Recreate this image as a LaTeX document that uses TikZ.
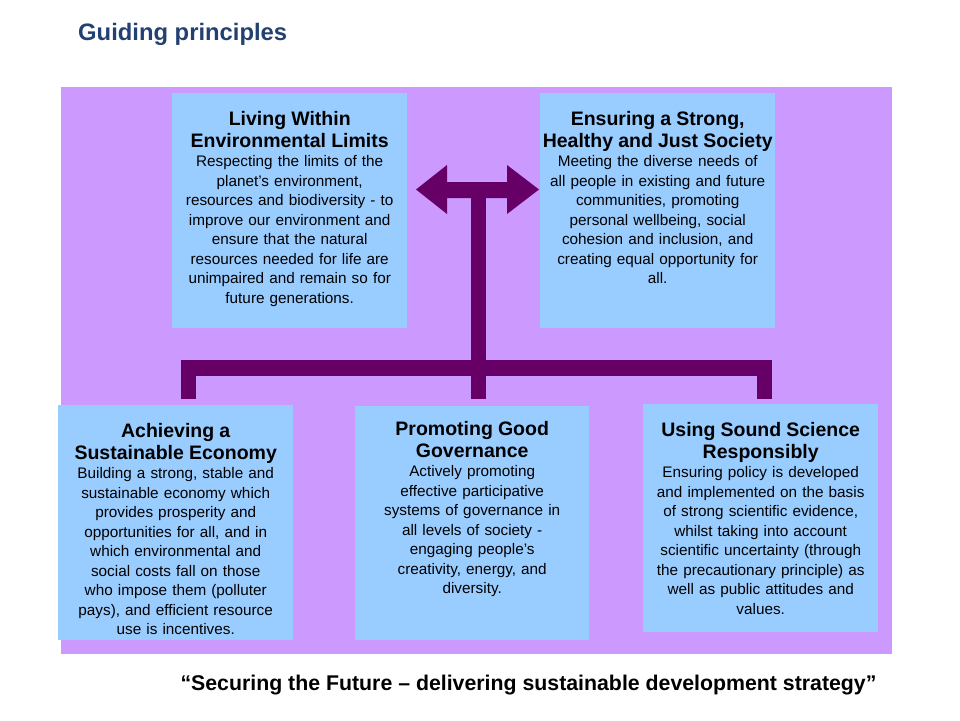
\documentclass[tikz,border=0pt]{standalone}
\usepackage{fontspec}
\setmainfont{Liberation Sans}
\definecolor{bgpurple}{HTML}{CC99FF}
\definecolor{boxblue}{HTML}{99CCFF}
\definecolor{arrowpurple}{HTML}{660066}
\definecolor{titleblue}{RGB}{35,64,115}
\newcommand{\headfont}{\fontsize{19.5}{22}\selectfont\bfseries}
\newcommand{\bodyfont}{\fontsize{15.3}{19.5}\selectfont}
\tikzset{
  bgpanel/.style={fill=bgpurple, draw=none, inner sep=0, anchor=north west},
  principle/.style={fill=boxblue, draw=none, inner sep=0, anchor=north west},
  ptext/.style={anchor=north, inner sep=0, text width=260pt, align=center, font=\bodyfont},
  barline/.style={draw=arrowpurple, line width=15.5pt, line join=miter, line cap=butt},
}
\begin{document}
\begin{tikzpicture}[x=1pt,y=-1pt]
\useasboundingbox (0,0) rectangle (960,720);
\node[anchor=base west, inner sep=0, text=titleblue, font=\fontsize{23.8}{28}\selectfont\bfseries] (title) at (78,40) {Guiding principles};
\node[bgpanel, minimum width=831pt, minimum height=567pt] (bg) at (61,87) {};
\node[principle, minimum width=235pt, minimum height=235pt] (b1) at (172,93) {};
\node[principle, minimum width=235pt, minimum height=235pt] (b2) at (540,93) {};
\node[principle, minimum width=235pt, minimum height=235pt] (b3) at (58,405) {};
\node[principle, minimum width=234pt, minimum height=234pt] (b4) at (355,406) {};
\node[principle, minimum width=235pt, minimum height=228pt] (b5) at (643,404) {};
\node[ptext] (t1) at ([yshift=-18pt]b1.north) {{\headfont Living Within\\Environmental Limits\par}Respecting the limits of the\\planet's environment,\\resources and biodiversity - to\\improve our environment and\\ensure that the natural\\resources needed for life are\\unimpaired and remain so for\\future generations.};
\node[ptext] (t2) at ([yshift=-18pt]b2.north) {{\headfont Ensuring a Strong,\\Healthy and Just Society\par}Meeting the diverse needs of\\all people in existing and future\\communities, promoting\\personal wellbeing, social\\cohesion and inclusion, and\\creating equal opportunity for\\all.};
\node[ptext] (t3) at ([yshift=-18pt]b3.north) {{\headfont Achieving a\\Sustainable Economy\par}Building a strong, stable and\\sustainable economy which\\provides prosperity and\\opportunities for all, and in\\which environmental and\\social costs fall on those\\who impose them (polluter\\pays), and efficient resource\\use is incentives.};
\node[ptext] (t4) at ([yshift=-15pt]b4.north) {{\headfont Promoting Good\\Governance\par}Actively promoting\\effective participative\\systems of governance in\\all levels of society -\\engaging people's\\creativity, energy, and\\diversity.};
\node[ptext] (t5) at ([yshift=-18pt]b5.north) {{\headfont Using Sound Science\\Responsibly\par}Ensuring policy is developed\\and implemented on the basis\\of strong scientific evidence,\\whilst taking into account\\scientific uncertainty (through\\the precautionary principle) as\\well as public attitudes and\\values.};
% connector structure
\coordinate (tipL) at (416,189.5);
\coordinate (tipR) at (539,189.5);
\coordinate (hub) at (478,189.5);
\coordinate (legL) at (188.5,399);
\coordinate (legM) at (478,399);
\coordinate (legR) at (764.5,399);
\fill[arrowpurple] (tipL) -- ++(31,-24.5) -- ++(0,17) -- ++(60,0) -- ++(0,-17) -- (tipR) -- ++(-32,24.5) -- ++(0,-16) -- ++(-60,0) -- ++(0,16) -- cycle;
\draw[barline, line width=15pt] (hub) -- (legM);
\draw[barline] (legL) |- (legR |- 0,368) -- (legR);
\node[anchor=base, inner sep=0, font=\fontsize{21.3}{25}\selectfont\bfseries] (quote) at (528.5,690) {“Securing the Future – delivering sustainable development strategy”};
\end{tikzpicture}
\end{document}
